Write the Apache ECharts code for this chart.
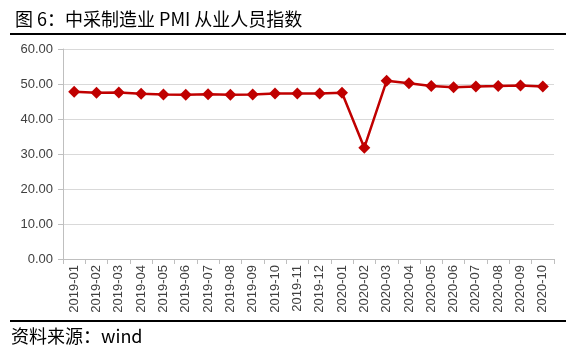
<!DOCTYPE html>
<html>
<head>
<meta charset="utf-8">
<script src="https://cdn.jsdelivr.net/npm/echarts@6/dist/echarts.min.js"></script>
<style>
  html, body { margin: 0; padding: 0; background: #fff; }
  #chart { width: 576px; height: 354px; }
</style>
</head>
<body>
<div id="chart"></div>
<script>
// months on the x axis
var months = ['2019-01', '2019-02', '2019-03', '2019-04', '2019-05', '2019-06',
    '2019-07', '2019-08', '2019-09', '2019-10', '2019-11', '2019-12',
    '2020-01', '2020-02', '2020-03', '2020-04', '2020-05', '2020-06',
    '2020-07', '2020-08', '2020-09', '2020-10'];
// PMI employment index
var employment = [47.8, 47.5, 47.6, 47.2, 47.0, 46.9, 47.1, 46.9, 47.0, 47.3, 47.3, 47.3,
    47.5, 31.8, 50.9, 50.2, 49.4, 49.1, 49.3, 49.4, 49.6, 49.3];

var titleText = '图 6：中采制造业 PMI 从业人员指数';
var sourceText = '资料来源：wind';

var chart = echarts.init(document.getElementById('chart'));
var option = {
    animation: false,
    backgroundColor: '#fff',
    title: {
        text: titleText,
        left: 10,
        top: 5,
        textStyle: {
            fontFamily: 'Noto Sans CJK SC',
            fontSize: 18,
            fontWeight: 'normal',
            color: '#000'
        }
    },
    graphic: [
        {
            type: 'rect',
            shape: { x: 10, y: 33, width: 556, height: 2 },
            style: { fill: '#000' }
        },
        {
            type: 'rect',
            shape: { x: 10, y: 320, width: 556, height: 2 },
            style: { fill: '#000' }
        },
        {
            type: 'text',
            left: 11,
            top: 327,
            style: {
                text: sourceText,
                fontFamily: 'Noto Sans CJK SC',
                fontSize: 18,
                fill: '#000'
            }
        }
    ],
    grid: {
        left: 63,
        right: 22,
        top: 49,
        bottom: 95
    },
    xAxis: {
        type: 'category',
        data: months,
        boundaryGap: true,
        axisLine: { lineStyle: { color: '#bfbfbf', width: 1 } },
        axisTick: { show: true, interval: 0, length: 5, lineStyle: { color: '#bfbfbf' } },
        axisLabel: {
            interval: 0,
            rotate: 90,
            margin: 6,
            fontFamily: 'Liberation Sans',
            fontSize: 13,
            color: '#404040'
        }
    },
    yAxis: {
        type: 'value',
        min: 0,
        max: 60,
        interval: 10,
        axisLine: { show: true, lineStyle: { color: '#bfbfbf', width: 1 } },
        axisTick: { show: true, length: 5, lineStyle: { color: '#bfbfbf' } },
        splitLine: { lineStyle: { color: '#d9d9d9', width: 1 } },
        axisLabel: {
            margin: 10,
            fontFamily: 'Liberation Sans',
            fontSize: 13,
            color: '#404040',
            formatter: function (v) { return v.toFixed(2); }
        }
    },
    series: [
        {
            type: 'line',
            data: employment,
            symbol: 'diamond',
            symbolSize: 12,
            lineStyle: { color: '#c00000', width: 2.5 },
            itemStyle: { color: '#c00000' }
        }
    ]
};
chart.setOption(option);
</script>
</body>
</html>
